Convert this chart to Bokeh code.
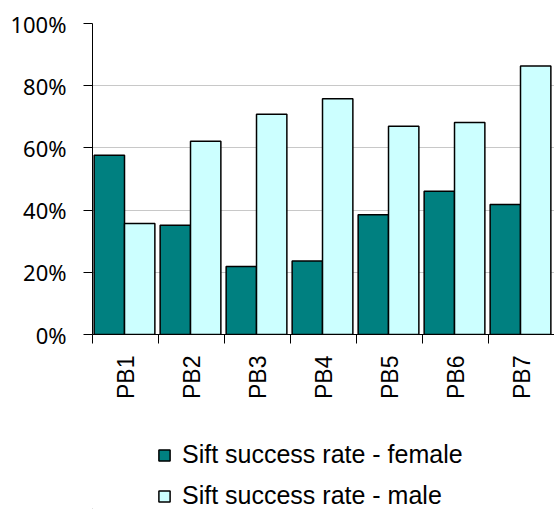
import math
from bokeh.plotting import figure
from bokeh.layouts import column
from bokeh.models import (ColumnDataSource, FixedTicker, NumeralTickFormatter,
                          Legend, LegendItem, Range1d)
from bokeh.embed import file_html
from bokeh.resources import INLINE

categories = ["PB1", "PB2", "PB3", "PB4", "PB5", "PB6", "PB7"]
female = [0.576, 0.351, 0.219, 0.236, 0.385, 0.461, 0.418]
male = [0.357, 0.621, 0.708, 0.758, 0.670, 0.682, 0.863]
series_names = ["Sift success rate - female", "Sift success rate - male"]
y_ticks = [0, 0.2, 0.4, 0.6, 0.8, 1.0]
colors = ["#008080", "#CCFFFF"]

n = len(categories)
xf = [i + 0.255 for i in range(n)]
xm = [i + 0.715 for i in range(n)]

src_f = ColumnDataSource(dict(x=xf, top=female))
src_m = ColumnDataSource(dict(x=xm, top=male))

p = figure(width=554, height=420, output_backend="svg",
           toolbar_location=None, x_range=Range1d(0, n), y_range=Range1d(0, 1),
           min_border_left=92, min_border_top=23, min_border_right=0,
           min_border_bottom=86)
p.outline_line_color = None
p.background_fill_color = "white"
p.border_fill_color = "white"

rf = p.vbar(x="x", top="top", width=0.46, bottom=0, source=src_f,
            fill_color=colors[0], line_color="black", line_width=1.5)
rm = p.vbar(x="x", top="top", width=0.46, bottom=0, source=src_m,
            fill_color=colors[1], line_color="black", line_width=1.5)

# y axis
p.yaxis.ticker = FixedTicker(ticks=y_ticks)
p.yaxis.formatter = NumeralTickFormatter(format="0%")
p.yaxis.major_label_text_font = "Noto Sans"
p.yaxis.major_label_text_font_size = "22px"
p.yaxis.major_label_text_color = "black"
p.yaxis.major_tick_out = 9
p.yaxis.major_tick_in = 0
p.yaxis.minor_tick_out = 0
p.yaxis.minor_tick_in = 0
p.yaxis.axis_line_color = "black"
p.yaxis.major_tick_line_color = "black"
p.yaxis.major_label_standoff = 17

# x axis
p.xaxis.ticker = FixedTicker(ticks=[i + 0.5 for i in range(n)],
                             minor_ticks=[i for i in range(n + 1)])
p.xaxis.major_label_overrides = {i + 0.5: c for i, c in enumerate(categories)}
p.xaxis.major_label_orientation = math.pi / 2
p.xaxis.major_label_text_font = "Liberation Sans"
p.xaxis.major_label_text_font_size = "23px"
p.xaxis.major_label_text_color = "black"
p.xaxis.major_tick_out = 0
p.xaxis.major_tick_in = 0
p.xaxis.minor_tick_out = 9
p.xaxis.minor_tick_in = 0
p.xaxis.minor_tick_line_color = "black"
p.xaxis.axis_line_color = "black"
p.xaxis.major_label_standoff = 12

p.xgrid.grid_line_color = None
p.ygrid.ticker = FixedTicker(ticks=y_ticks)
p.ygrid.grid_line_color = "#c8c8c8"
p.ygrid.grid_line_width = 1

# legend panel (separate figure so the legend is not clipped)
p2 = figure(width=554, height=89, output_backend="svg", toolbar_location=None,
            x_range=Range1d(0, 1), y_range=Range1d(0, 1),
            min_border_left=0, min_border_right=0, min_border_top=0,
            min_border_bottom=0)
p2.axis.visible = False
p2.grid.visible = False
p2.outline_line_color = None
p2.border_fill_color = "white"
# legend proxies: one swatch each, placed outside the visible range
lf = p2.vbar(x=[-10], top=[0], width=0.1, fill_color=colors[0],
             line_color="black", line_width=1.5)
lm = p2.vbar(x=[-10], top=[0], width=0.1, fill_color=colors[1],
             line_color="black", line_width=1.5)

legend = Legend(items=[LegendItem(label=series_names[0], renderers=[lf]),
                       LegendItem(label=series_names[1], renderers=[lm])],
                orientation="vertical", location=(65, -1),
                label_text_font="Liberation Sans", label_text_font_size="25px",
                label_text_color="black", glyph_width=14, glyph_height=14,
                border_line_color=None, background_fill_alpha=0,
                spacing=12, label_standoff=11, margin=0, padding=0)
p2.add_layout(legend, "center")

layout = column(p, p2, spacing=0)
open("out.html", "w").write(file_html(layout, INLINE))
